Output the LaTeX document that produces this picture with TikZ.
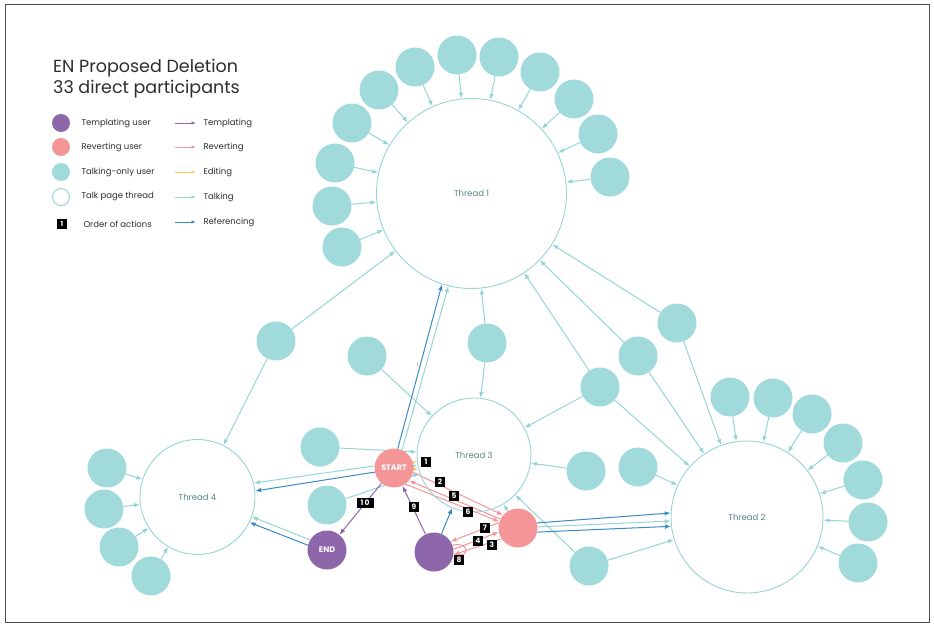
\documentclass[tikz,border=0pt]{standalone}
\usepackage{fontspec}
\setmainfont{Poppins}
\usetikzlibrary{arrows.meta}
\definecolor{ppl}{RGB}{142,103,171}
\definecolor{pnk}{RGB}{244,149,151}
\definecolor{tfill}{RGB}{160,218,219}
\definecolor{tline}{RGB}{150,212,214}
\definecolor{rblue}{RGB}{60,138,196}
\definecolor{yel}{RGB}{253,199,95}
\definecolor{ttxt}{RGB}{84,132,134}
\definecolor{dark}{RGB}{45,45,45}
\pgfdeclarelayer{bg}
\pgfsetlayers{bg,main}
\begin{document}
\begin{tikzpicture}[x=1pt,y=-1pt,
  >={Latex[length=6pt,width=4.6pt]},
  actor/.style={circle,fill=tfill,inner sep=0pt,minimum size=39pt},
  user/.style={circle,fill=#1,inner sep=0pt,minimum size=39pt,text=white,font=\bfseries\fontsize{8}{8}\selectfont},
  thread/.style={circle,draw=tline,line width=0.9pt,inner sep=0pt,minimum size=#1,text=ttxt,font=\fontsize{8.5}{9}\selectfont},
  talk/.style={draw=tline,line width=1pt,->},
  refer/.style={draw=rblue,line width=1pt,->},
  revert/.style={draw=pnk,line width=1pt,->},
  templ/.style={draw=ppl,line width=1pt,->},
  edit/.style={draw=yel,line width=1pt,->},
  numbox/.style={fill=black,text=white,inner sep=0pt,minimum height=10.5pt,minimum width=10.5pt,font=\bfseries\fontsize{7.5}{7.5}\selectfont},
  legtxt/.style={anchor=west,text=dark,font=\fontsize{8.5}{9}\selectfont},
  legarrow/.style={line width=1pt,-{Latex[length=4.5pt,width=3.5pt]}}
]
\useasboundingbox (0,0) rectangle (934,626);
\draw[line width=0.8pt,draw=dark!85] (5,4) rectangle (929,622);

% title
\node[anchor=base west,inner sep=0pt,text=dark,font=\fontsize{17.5}{21}\selectfont] (title1) at (53,72) {EN Proposed Deletion};
\node[anchor=base west,inner sep=0pt,text=dark,font=\fontsize{17.5}{21}\selectfont] (title2) at (53,93) {33 direct participants};

% legend
\node[circle,fill=ppl,inner sep=0pt,minimum size=18pt] (lg1) at (61,123) {};
\node[circle,fill=pnk,inner sep=0pt,minimum size=18pt] (lg2) at (61,147) {};
\node[circle,fill=tfill,inner sep=0pt,minimum size=18pt] (lg3) at (61,172) {};
\node[circle,draw=tline,line width=0.9pt,inner sep=0pt,minimum size=17pt] (lg4) at (61,197) {};
\node[numbox,minimum size=9.5pt,font=\bfseries\fontsize{7}{7}\selectfont] (lg5) at (62,224) {1};
\node[legtxt] (lt1) at (78,123) {Templating user};
\node[legtxt] (lt2) at (78,147) {Reverting user};
\node[legtxt] (lt3) at (78,172) {Talking-only user};
\node[legtxt] (lt4) at (78,197) {Talk page thread};
\node[legtxt] (lt5) at (80,224) {Order of actions};
\coordinate (la1) at (175,123); \coordinate (lb1) at (196,123);
\coordinate (la2) at (175,147); \coordinate (lb2) at (196,147);
\coordinate (la3) at (175,172); \coordinate (lb3) at (196,172);
\coordinate (la4) at (175,197); \coordinate (lb4) at (196,197);
\coordinate (la5) at (175,222); \coordinate (lb5) at (196,222);
\draw[legarrow,draw=ppl] (la1) -- (lb1);
\draw[legarrow,draw=pnk] (la2) -- (lb2);
\draw[legarrow,draw=yel] (la3) -- (lb3);
\draw[legarrow,draw=tline] (la4) -- (lb4);
\draw[legarrow,draw=rblue] (la5) -- (lb5);
\node[legtxt] (lu1) at (200,123) {Templating};
\node[legtxt] (lu2) at (200,147) {Reverting};
\node[legtxt] (lu3) at (200,172) {Editing};
\node[legtxt] (lu4) at (200,197) {Talking};
\node[legtxt] (lu5) at (200,222) {Referencing};

% threads
\node[thread=190pt] (T1) at (471.5,193.5) {Thread 1};
\node[thread=152pt] (T2) at (747,517) {Thread 2};
\node[thread=114pt] (T3) at (474,455) {Thread 3};
\node[thread=115pt] (T4) at (197.5,497) {Thread 4};

% actors around thread 1
\node[actor] (t1a) at (457,55) {};
\node[actor] (t1b) at (499,57) {};
\node[actor] (t1c) at (540,72) {};
\node[actor] (t1d) at (574,99) {};
\node[actor] (t1e) at (598,134) {};
\node[actor] (t1f) at (610,177) {};
\node[actor] (t1g) at (415,67) {};
\node[actor] (t1h) at (379,90) {};
\node[actor] (t1i) at (352,123) {};
\node[actor] (t1j) at (335,163) {};
\node[actor] (t1k) at (332,206) {};
\node[actor] (t1l) at (342,247) {};
% actors around thread 2
\node[actor] (t2a) at (730,397) {};
\node[actor] (t2b) at (773,398) {};
\node[actor] (t2c) at (812,414) {};
\node[actor] (t2d) at (843,443) {};
\node[actor] (t2e) at (863,480) {};
\node[actor] (t2f) at (868,522) {};
\node[actor] (t2g) at (858,563) {};
\node[actor] (t2h) at (638,467) {};
\node[actor] (t2i) at (589,566) {};
% actors around thread 4
\node[actor] (t4a) at (107,468) {};
\node[actor] (t4b) at (104,509) {};
\node[actor] (t4c) at (119,547) {};
\node[actor] (t4d) at (151,576) {};
% other actors
\node[actor] (nA) at (276,341) {};
\node[actor] (nB) at (487,343) {};
\node[actor] (nC) at (600,387) {};
\node[actor] (nD) at (638,356) {};
\node[actor] (nE) at (677,323) {};
\node[actor] (n31) at (367,356) {};
\node[actor] (n32) at (320,447) {};
\node[actor] (n33) at (327,505) {};
\node[actor] (n34) at (586,471) {};
% users
\node[user=pnk] (START) at (394,468) {START};
\node[user=ppl] (END) at (327,550) {END};
\node[user=ppl] (P) at (434,552) {};
\node[user=pnk] (R) at (518,528) {};

\node[text=gray,font=\fontsize{5}{5}\selectfont,inner sep=0pt,rotate=-15] (stray) at (418,365) {L};

\begin{pgfonlayer}{bg}
\foreach \n in {t1a,t1b,t1c,t1d,t1e,t1f,t1g,t1h,t1i,t1j,t1k,t1l,nA,nB,nC,nD,nE}
  \draw[talk] (\n) -- (T1);
\foreach \n in {t2a,t2b,t2c,t2d,t2e,t2f,t2g,t2h,t2i,nC,nD,nE}
  \draw[talk] (\n) -- (T2);
\foreach \n in {t4a,t4b,t4c,t4d,nA}
  \draw[talk] (\n) -- (T4);
\foreach \n in {nB,nC,n31,n32,n33,n34,t2i,R}
  \draw[talk] (\n) -- (T3);
% START
\draw[refer] (START.79) -- (T1.252);
\draw[talk] (START.66) -- (T1.256);
\draw[talk] (START.174) -- (T4.14);
\draw[refer] (START.192) -- (T4.6);
\draw[edit] (START.16) -- (T3.186);
\draw[talk] (START.6) -- (T3.190);
\draw[edit] (START.-3) -- (T3.194.5);
\draw[templ] (START) -- (END);
% END
\draw[talk] (END.149) -- (T4.-20.5);
\draw[refer] (END.166) -- (T4.-26.3);
% P
\draw[templ] (P) -- (START);
\draw[refer] (P) -- (T3);
\draw[revert] (P.8) -- (R.192);
\draw[revert] (P.20) .. controls (469,541) and (469,557) .. (P.-4);
% R
\draw[refer] (R.15) -- (T2.177.8);
\draw[talk] (R.3) -- (T2.183);
\draw[refer] (R.-12) -- (T2.187.6);
\draw[revert] (R.164) -- (P.32);
\draw[revert] (R.213) -- (P.-8);
\draw[revert] (START.-13) -- (R.139);
\draw[revert] (R.153) -- (START.-40);
\draw[revert] (START.-55) -- (R.161);
\end{pgfonlayer}

% order labels
\node[numbox] (L1) at (426,462) {1};
\node[numbox] (L2) at (440,482) {2};
\node[numbox] (L3) at (492,545) {3};
\node[numbox] (L4) at (478,541) {4};
\node[numbox] (L5) at (454,496) {5};
\node[numbox] (L6) at (468,512) {6};
\node[numbox] (L7) at (485,528) {7};
\node[numbox] (L8) at (459,560) {8};
\node[numbox] (L9) at (414,507) {9};
\node[numbox,minimum width=17pt] (L10) at (365,503) {1\,0};
\end{tikzpicture}
\end{document}
